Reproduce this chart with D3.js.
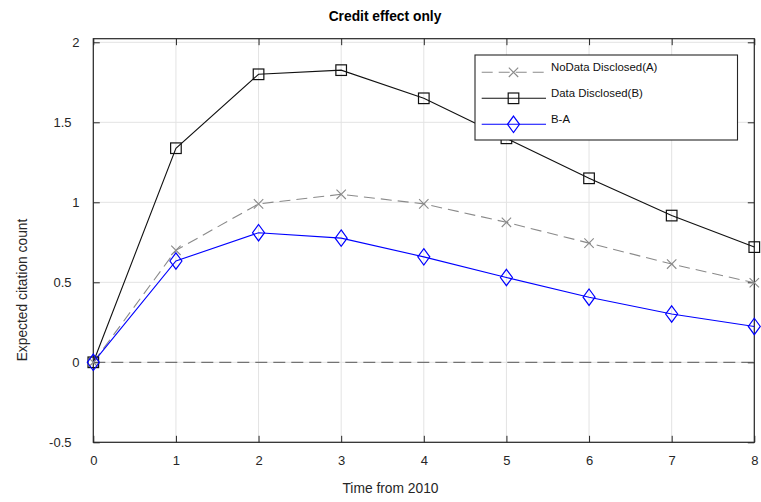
<!DOCTYPE html>
<html>
<head>
<meta charset="utf-8">
<script src="https://cdn.jsdelivr.net/npm/d3@7/dist/d3.min.js"></script>
<style>
  html, body { margin: 0; padding: 0; background: #fff; }
  svg { display: block; font-family: "Liberation Sans", Arial, Helvetica, sans-serif; }
</style>
</head>
<body>
<svg id="chart" width="761" height="502"></svg>
<script>
// Years after 2010
const years = [0, 1, 2, 3, 4, 5, 6, 7, 8];
// Expected citation count, datasets not disclosed (A)
const noDataDisclosed = [0, 0.70, 0.99, 1.05, 0.99, 0.875, 0.745, 0.614, 0.497];
// Expected citation count, datasets disclosed (B)
const dataDisclosed = [0, 1.338, 1.80, 1.826, 1.65, 1.40, 1.15, 0.917, 0.72];
// Difference B-A
const diffBA = [0, 0.633, 0.81, 0.776, 0.659, 0.53, 0.407, 0.302, 0.224];

const xTicks = [0, 1, 2, 3, 4, 5, 6, 7, 8];
const yTicks = [-0.5, 0, 0.5, 1, 1.5, 2];
const yTickLabels = ["-0.5", "0", "0.5", "1", "1.5", "2"];
const seriesNames = ["NoData Disclosed(A)", "Data Disclosed(B)", "B-A"];

const svg = d3.select("#chart");
const plotLeft = 93.3, plotRight = 754.3, plotTop = 38.7, plotBottom = 442.3;

const x = d3.scaleLinear().domain([0, 8]).range([plotLeft, plotRight]);
const y = d3.scaleLinear().domain([-0.5, 2.0225]).range([plotBottom, plotTop]);

const axisColor = "#262626";
const gridColor = "#e3e3e3";

// grid
const grid = svg.append("g");
grid.selectAll("line.gx").data(xTicks).join("line")
  .attr("x1", d => x(d)).attr("x2", d => x(d))
  .attr("y1", plotTop).attr("y2", plotBottom)
  .attr("stroke", gridColor).attr("stroke-width", 1);
grid.selectAll("line.gy").data(yTicks).join("line")
  .attr("x1", plotLeft).attr("x2", plotRight)
  .attr("y1", d => y(d)).attr("y2", d => y(d))
  .attr("stroke", gridColor).attr("stroke-width", 1);

// axes (ticks inward on all four sides)
const tickLen = 6.5;
const fmtY = d => yTickLabels[yTicks.indexOf(d)];

const axB = svg.append("g").attr("transform", `translate(0,${plotBottom})`)
  .call(d3.axisBottom(x).tickValues(xTicks).tickSizeInner(-tickLen).tickSizeOuter(0).tickPadding(13).tickFormat(d3.format("d")));
const axT = svg.append("g").attr("transform", `translate(0,${plotTop})`)
  .call(d3.axisTop(x).tickValues(xTicks).tickSizeInner(-tickLen).tickSizeOuter(0).tickFormat(""));
const axL = svg.append("g").attr("transform", `translate(${plotLeft},0)`)
  .call(d3.axisLeft(y).tickValues(yTicks).tickSizeInner(-tickLen).tickSizeOuter(0).tickPadding(0).tickFormat(fmtY));
const axR = svg.append("g").attr("transform", `translate(${plotRight},0)`)
  .call(d3.axisRight(y).tickValues(yTicks).tickSizeInner(-tickLen).tickSizeOuter(0).tickFormat(""));

[axB, axT, axL, axR].forEach(g => {
  g.select(".domain").remove();
  g.selectAll(".tick line").attr("stroke", axisColor).attr("stroke-width", 1);
  g.selectAll(".tick text").attr("fill", axisColor).attr("font-size", 13)
    .attr("font-family", "Liberation Sans, Arial, sans-serif");
});
// integer labels sit further right than the decimal ones
axL.selectAll(".tick text").attr("x", d => Number.isInteger(d) ? -13.8 : -21.8);

// frame
svg.append("rect").attr("x", plotLeft).attr("y", plotTop)
  .attr("width", plotRight - plotLeft).attr("height", plotBottom - plotTop)
  .attr("fill", "none").attr("stroke", axisColor).attr("stroke-width", 1.2);

// series
const lineGen = vals => d3.line().x((d, i) => x(years[i])).y(d => y(d))(vals);

const colA = "#8a8a8a", colB = "#111", colC = "#0000ff";

svg.append("path").attr("d", lineGen(noDataDisclosed)).attr("fill", "none")
  .attr("stroke", colA).attr("stroke-width", 1.1).attr("stroke-dasharray", "11,6");
svg.append("path").attr("d", lineGen(dataDisclosed)).attr("fill", "none")
  .attr("stroke", colB).attr("stroke-width", 1.1);
svg.append("path").attr("d", lineGen(diffBA)).attr("fill", "none")
  .attr("stroke", colC).attr("stroke-width", 1.1);

// zero reference line
svg.append("line").attr("x1", x(0)).attr("x2", x(8))
  .attr("y1", y(0)).attr("y2", y(0))
  .attr("stroke", "#555").attr("stroke-width", 1).attr("stroke-dasharray", "12,6");

// markers
function crossMark(g, cx, cy, s, col) {
  g.append("path").attr("d", `M${cx - s},${cy - s}L${cx + s},${cy + s}M${cx - s},${cy + s}L${cx + s},${cy - s}`)
    .attr("stroke", col).attr("stroke-width", 1.1).attr("fill", "none");
}
function squareMark(g, cx, cy, s, col) {
  g.append("rect").attr("x", cx - s).attr("y", cy - s).attr("width", 2 * s).attr("height", 2 * s)
    .attr("stroke", col).attr("stroke-width", 1.2).attr("fill", "none");
}
function diamondMark(g, cx, cy, w, h, col) {
  g.append("path").attr("d", `M${cx},${cy - h}L${cx + w},${cy}L${cx},${cy + h}L${cx - w},${cy}Z`)
    .attr("stroke", col).attr("stroke-width", 1.2).attr("fill", "none");
}

const mk = svg.append("g");
noDataDisclosed.forEach((v, i) => crossMark(mk, x(years[i]), y(v), 4.7, colA));
dataDisclosed.forEach((v, i) => squareMark(mk, x(years[i]), y(v), 5.3, colB));
diffBA.forEach((v, i) => diamondMark(mk, x(years[i]), y(v), 6, 8.2, colC));

// legend
const lg = svg.append("g");
lg.append("rect").attr("x", 475).attr("y", 55).attr("width", 262.5).attr("height", 85)
  .attr("fill", "#fff").attr("stroke", axisColor).attr("stroke-width", 1.1);
const rows = [72.3, 98.3, 124.3];
const lx1 = 481.7, lx2 = 546, lmx = 513.5;
lg.append("line").attr("x1", lx1).attr("x2", lx2).attr("y1", rows[0]).attr("y2", rows[0])
  .attr("stroke", colA).attr("stroke-width", 1.1).attr("stroke-dasharray", "11,6");
crossMark(lg, lmx, rows[0], 4.7, colA);
lg.append("line").attr("x1", lx1).attr("x2", lx2).attr("y1", rows[1]).attr("y2", rows[1])
  .attr("stroke", colB).attr("stroke-width", 1.1);
squareMark(lg, lmx, rows[1], 5.3, colB);
lg.append("line").attr("x1", lx1).attr("x2", lx2).attr("y1", rows[2]).attr("y2", rows[2])
  .attr("stroke", colC).attr("stroke-width", 1.1);
diamondMark(lg, lmx, rows[2], 6, 8.2, colC);
seriesNames.forEach((n, i) => {
  lg.append("text").attr("x", 551).attr("y", rows[i] - 1.5)
    .attr("font-size", 11.4).attr("fill", "#111").text(n);
});

// title and labels
svg.append("text").attr("x", 385).attr("y", 20.5).attr("text-anchor", "middle")
  .attr("font-size", 13.8).attr("font-weight", "bold").attr("fill", "#000").text("Credit effect only");
svg.append("text").attr("x", 390.5).attr("y", 493).attr("text-anchor", "middle")
  .attr("font-size", 13.8).attr("fill", axisColor).text("Time from 2010");
svg.append("text").attr("transform", "translate(27,290) rotate(-90)").attr("text-anchor", "middle")
  .attr("font-size", 13.8).attr("fill", axisColor).text("Expected citation count");
</script>
</body>
</html>
